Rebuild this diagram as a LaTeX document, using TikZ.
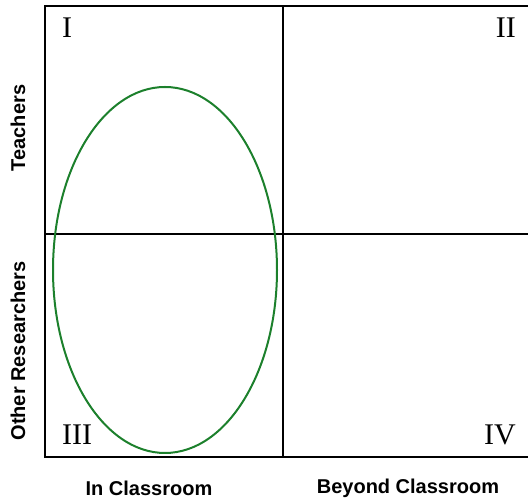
\documentclass[tikz,border=0pt]{standalone}
\usepackage{fontspec}
\setmainfont{Liberation Serif}
\setsansfont{Liberation Sans}
\definecolor{ellgreen}{RGB}{28,128,44}
\begin{document}
\begin{tikzpicture}[x=1pt,y=1pt,
  gridline/.style={line width=2pt,black},
  roman/.style={font=\fontsize{30}{30}\selectfont\rmfamily,inner sep=0pt},
  axislabel/.style={font=\fontsize{20}{20}\selectfont\sffamily\bfseries,inner sep=0pt}]
\useasboundingbox (0,0) rectangle (528,502);
\coordinate (tl) at (45,496);
\coordinate (tr) at (532,496);
\coordinate (bl) at (45,45);
\coordinate (br) at (532,45);
\coordinate (vt) at (283,496);
\coordinate (vb) at (283,45);
\coordinate (hl) at (45,268);
\coordinate (hr) at (532,268);
\draw[gridline] (tr) -- (tl) -- (bl) -- (br);
\draw[gridline] (vt) -- (vb);
\draw[gridline] (hl) -- (hr);
\draw[ellgreen,line width=2pt] (165,232) ellipse (112 and 183);
\node[roman,anchor=north west] (q1) at (62,484) {I};
\node[roman,anchor=north east] (q2) at (516,484) {II};
\node[roman,anchor=south west] (q3) at (62,57) {III};
\node[roman,anchor=south east] (q4) at (516,57) {IV};
\node[axislabel,rotate=90] (teach) at (18,374) {Teachers};
\node[axislabel,rotate=90] (other) at (18,151) {Other Researchers};
\node[axislabel] (inc) at (149,14) {In Classroom};
\node[axislabel] (bey) at (408,14) {Beyond Classroom};
\end{tikzpicture}
\end{document}
